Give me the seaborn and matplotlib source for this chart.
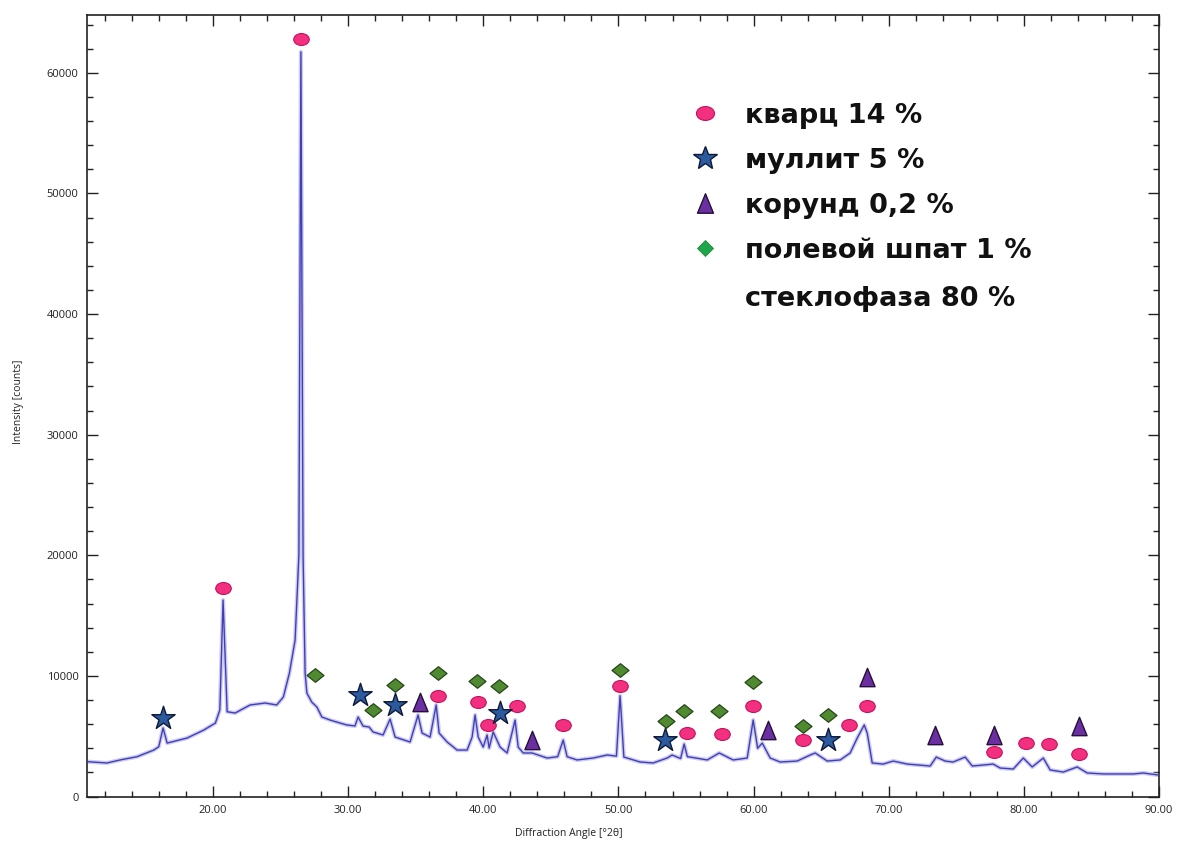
import numpy as np
import pandas as pd
import seaborn as sns
import matplotlib
matplotlib.use("Agg")
import matplotlib.pyplot as plt
from matplotlib.path import Path
from matplotlib.ticker import MultipleLocator, FuncFormatter

# Diffractogram trace: 2-theta angle (deg) and intensity (counts)
two_theta = [
    10.67, 12.15, 13.12, 14.37, 15.61, 15.98, 16.30, 16.60, 18.08, 19.31,
    20.17, 20.50, 20.74, 21.04, 21.63, 22.74, 23.85, 24.71, 25.20, 25.65,
    26.07, 26.35, 26.50, 26.66, 26.81, 26.94, 27.30, 27.68, 28.05, 28.66,
    29.40, 29.90, 30.50, 30.73, 31.10, 31.55, 31.84, 32.58, 33.10, 33.47,
    34.58, 35.17, 35.47, 36.06, 36.51, 36.73, 37.32, 38.06, 38.80, 39.17,
    39.39, 39.62, 39.99, 40.28, 40.43, 40.73, 41.24, 41.76, 42.35, 42.58,
    42.95, 43.61, 44.72, 45.50, 45.91, 46.20, 46.94, 48.13, 49.16, 49.85,
    50.12, 50.40, 51.61, 52.57, 53.60, 53.97, 54.60, 54.86, 55.10, 55.31,
    56.57, 57.46, 58.49, 59.53, 59.97, 60.30, 60.64, 61.23, 61.97, 63.23,
    64.19, 64.56, 65.45, 66.41, 67.15, 67.67, 68.19, 68.41, 68.78, 69.59,
    70.33, 71.37, 73.07, 73.52, 74.18, 74.77, 75.66, 76.18, 77.00, 77.73,
    78.25, 79.22, 79.96, 80.62, 81.07, 81.44, 81.95, 82.92, 83.95, 84.69,
    85.88, 88.10, 88.84, 89.95,
]
intensity = [
    2890, 2780, 3030, 3300, 3850, 4130, 5680, 4430, 4850, 5510,
    6090, 7170, 16290, 7030, 6920, 7590, 7750, 7590, 8250, 10240,
    12970, 20000, 61740, 20000, 10240, 8580, 7830, 7420, 6590, 6340,
    6090, 5930, 5850, 6590, 5840, 5760, 5350, 5100, 6420, 4930,
    4520, 6760, 5260, 4930, 7590, 5260, 4520, 3850, 3850, 4930,
    6760, 4930, 4100, 5100, 4020, 5350, 4100, 3610, 6340, 4100,
    3610, 3610, 3190, 3300, 4680, 3300, 3030, 3190, 3440, 3350,
    8350, 3270, 2860, 2780, 3190, 3440, 3150, 4350, 3300, 3270,
    3030, 3610, 3030, 3190, 6340, 4000, 4430, 3190, 2860, 2940,
    3440, 3610, 2940, 3030, 3610, 4850, 5930, 5260, 2780, 2690,
    2940, 2690, 2530, 3270, 2940, 2860, 3270, 2530, 2610, 2690,
    2360, 2280, 3190, 2450, 2860, 3190, 2200, 2030, 2450, 1950,
    1870, 1870, 1950, 1780,
]

# Phase identification marks (angle, height of the symbol)
quartz_x = [20.74, 26.50, 36.65, 39.60, 40.36, 42.50, 45.90, 50.12, 55.08,
            57.68, 59.97, 63.67, 67.08, 68.41, 77.81, 80.18, 81.88, 84.10]
quartz_y = [17280, 62800, 8330, 7830, 5930, 7500, 5930, 9160, 5260,
            5180, 7500, 4680, 5930, 7500, 3690, 4430, 4350, 3520]

mullite_x = [16.30, 30.88, 33.47, 41.24, 53.46, 65.52]
mullite_y = [6510, 8420, 7590, 6920, 4680, 4680]

corundum_x = [35.32, 43.60, 61.08, 68.41, 73.44, 77.81, 84.10]
corundum_y = [7830, 4680, 5510, 9910, 5100, 5100, 5840]

feldspar_x = [27.55, 31.84, 33.47, 36.65, 39.54, 41.17, 50.12, 53.53,
              54.86, 57.45, 59.97, 63.67, 65.52]
feldspar_y = [10070, 7170, 9240, 10240, 9580, 9160, 10490, 6260,
              7090, 7090, 9490, 5840, 6760]

phase_labels = ["кварц 14 %", "муллит 5 %", "корунд 0,2 %",
                "полевой шпат 1 %", "стеклофаза 80 %"]

x_major = [20, 30, 40, 50, 60, 70, 80, 90]
y_major = [0, 10000, 20000, 30000, 40000, 50000, 60000]

sns.set_style("ticks")
plt.rcParams["font.family"] = ["Open Sans", "DejaVu Sans"]

# Marker shapes: flattened ellipse, slim triangle, wide diamond
ellipse = Path(Path.unit_circle().vertices * np.array([1.3, 1.0]),
               Path.unit_circle().codes)
slim_tri = Path([(0, 1), (-0.82, -1), (0.82, -1), (0, 1)],
                [Path.MOVETO, Path.LINETO, Path.LINETO, Path.CLOSEPOLY])
wide_diamond = Path([(-1, 0), (0, 0.8), (1, 0), (0, -0.8), (-1, 0)],
                    [Path.MOVETO, Path.LINETO, Path.LINETO, Path.LINETO,
                     Path.CLOSEPOLY])

fig = plt.figure(figsize=(11.79, 8.46), dpi=100)
ax = fig.add_axes([0.0738, 0.0585, 0.9092, 0.9238])

trace = pd.DataFrame({"angle": two_theta, "counts": intensity})
sns.lineplot(data=trace, x="angle", y="counts", ax=ax, sort=False,
             color="#b8b6f2", lw=3.0, alpha=0.7, zorder=2)
sns.lineplot(data=trace, x="angle", y="counts", ax=ax, sort=False,
             color="#4240ae", lw=1.0, zorder=3)

sns.scatterplot(x=quartz_x, y=quartz_y, ax=ax, marker=ellipse, s=125,
                color="#f2307f", edgecolor="#c8105c", linewidth=0.8, zorder=5)
sns.scatterplot(x=mullite_x, y=mullite_y, ax=ax, marker="*", s=310,
                color="#2c5a9e", edgecolor="#0e1a36", linewidth=1.0, zorder=5)
sns.scatterplot(x=corundum_x, y=corundum_y, ax=ax, marker=slim_tri, s=175,
                color="#6c2fa2", edgecolor="#24103a", linewidth=1.0, zorder=5)
sns.scatterplot(x=feldspar_x, y=feldspar_y, ax=ax, marker=wide_diamond, s=150,
                color="#4f8a30", edgecolor="#27461a", linewidth=0.9, zorder=5)

ax.set_xlim(10.67, 90)
ax.set_ylim(0, 64800)
ax.xaxis.set_major_locator(plt.FixedLocator(x_major))
ax.xaxis.set_minor_locator(MultipleLocator(2))
ax.yaxis.set_major_locator(plt.FixedLocator(y_major))
ax.yaxis.set_minor_locator(MultipleLocator(2000))
ax.xaxis.set_major_formatter(FuncFormatter(lambda v, p: f"{v:.2f}"))
ax.yaxis.set_major_formatter(FuncFormatter(lambda v, p: f"{v:.0f}"))

ax.tick_params(which="both", direction="in", top=True, right=True,
               color="#222222", width=1.0)
ax.tick_params(which="major", length=8, labelsize=8, labelcolor="#222222", pad=6)
ax.tick_params(which="minor", length=4)
for sp in ax.spines.values():
    sp.set_linewidth(1.2)
    sp.set_color("#222222")

ax.set_xlabel("Diffraction Angle [°2θ]", fontsize=7.5, color="#222222")
ax.set_ylabel("Intensity [counts]", fontsize=7.5, color="#222222")
ax.xaxis.set_label_coords(0.449, -0.040)
ax.yaxis.set_label_coords(-0.059, 0.505)

# Phase key drawn inside the plot area
key_rows = [0.8746, 0.8171, 0.7594, 0.7018, 0.6404]
key_styles = [
    dict(marker=ellipse, markersize=13, color="#f2307f", mec="#c8105c", mew=0.8),
    dict(marker="*", markersize=18, color="#2c5a9e", mec="#0e1a36", mew=1.0),
    dict(marker=slim_tri, markersize=14, color="#6c2fa2", mec="#24103a", mew=1.0),
    dict(marker="D", markersize=8.5, color="#1fa64a", mec="#1a8a3a", mew=0.6),
]
for row, style in zip(key_rows, key_styles):
    ax.plot([0.5765], [row], transform=ax.transAxes, linestyle="none",
            zorder=6, **style)
for row, label in zip(key_rows, phase_labels):
    ax.text(0.6138, row, label, transform=ax.transAxes, ha="left",
            va="center_baseline", fontsize=19.5, fontweight="bold",
            color="#111111", family=["DejaVu Sans"])

fig.savefig("out.png", dpi=100)
